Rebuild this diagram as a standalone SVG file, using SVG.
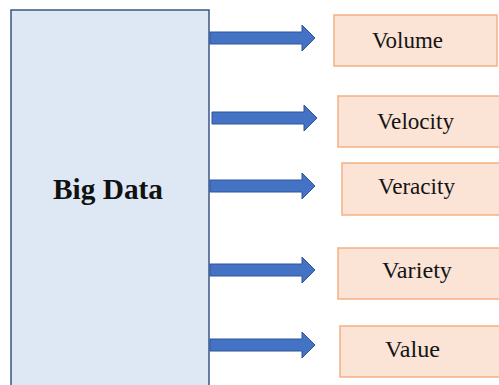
<svg xmlns="http://www.w3.org/2000/svg" width="499" height="385" viewBox="0 0 499 385">
<style>
.main{fill:#dde8f4;stroke:#3a5586;stroke-width:1.5}
.v{fill:#fbe3d5;stroke:#f4b183;stroke-width:1.5}
.t{font-family:"Liberation Serif","Times New Roman",serif;font-size:24px;fill:#141414}
.tb{font-family:"Liberation Serif","Times New Roman",serif;font-size:29px;font-weight:bold;fill:#111}
.arr{fill:#4472c4;stroke:#2f5597;stroke-width:1}
</style>
<defs>
<path id="ar" d="M0,-6 H92 V-13 L105,0 L92,13 V6 H0 Z"/>
</defs>
<g id="bigdata">
<rect class="main" x="11" y="10" width="198" height="390"/>
<text class="tb" x="53" y="199" textLength="110" lengthAdjust="spacingAndGlyphs">Big Data</text>
</g>
<g id="connectors">
<use href="#ar" class="arr" x="210" y="38"/>
<use href="#ar" class="arr" x="212" y="118"/>
<use href="#ar" class="arr" x="210" y="186"/>
<use href="#ar" class="arr" x="210" y="270"/>
<use href="#ar" class="arr" x="210" y="345"/>
</g>
<g id="volume">
<rect class="v" x="334" y="15" width="163" height="51"/>
<text class="t" x="372" y="48" textLength="71" lengthAdjust="spacingAndGlyphs">Volume</text>
</g>
<g id="velocity">
<rect class="v" x="338" y="96" width="165" height="51"/>
<text class="t" x="377" y="129" textLength="77" lengthAdjust="spacingAndGlyphs">Velocity</text>
</g>
<g id="veracity">
<rect class="v" x="342" y="163" width="165" height="52"/>
<text class="t" x="378" y="194" textLength="77" lengthAdjust="spacingAndGlyphs">Veracity</text>
</g>
<g id="variety">
<rect class="v" x="338" y="248" width="165" height="51"/>
<text class="t" x="382" y="278" textLength="70" lengthAdjust="spacingAndGlyphs">Variety</text>
</g>
<g id="value">
<rect class="v" x="340" y="326" width="165" height="51"/>
<text class="t" x="385" y="357" textLength="55" lengthAdjust="spacingAndGlyphs">Value</text>
</g>
</svg>
